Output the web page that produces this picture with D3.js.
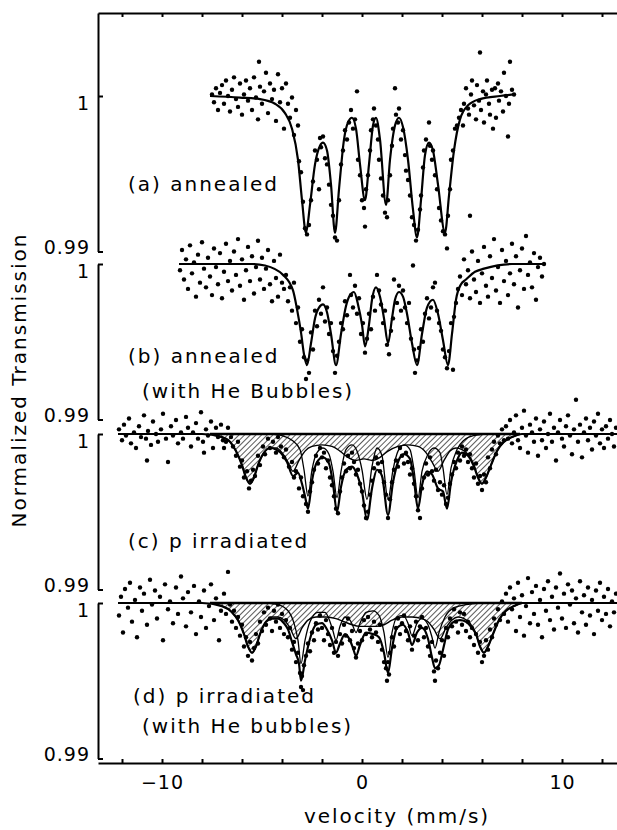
<!DOCTYPE html>
<html>
<head>
<meta charset="utf-8">
<script src="https://cdn.jsdelivr.net/npm/d3@7"></script>
<style>
  body { margin: 0; background: #fff; }
  text { font-family: "DejaVu Sans", sans-serif; fill: #000; }
</style>
</head>
<body>
<svg id="chart" width="617" height="830"></svg>
<script>
// velocity axis ticks and labels
var velTicks = [-12, -10, -8, -6, -4, -2, 0, 2, 4, 6, 8, 10, 12];
var velLabels = [-10, 0, 10];
var transTicks = [0.99, 1];

var panelNames = ["(a) annealed", "(b) annealed", "(c) p irradiated", "(d) p irradiated"];
var panelNotes = ["", "(with He Bubbles)", "", "(with He bubbles)"];

// (a) annealed : fit and measured points [velocity, transmission]
var fitA = [[-7.6,1.0000],[-6.1,0.9999],[-5.1,0.9998],[-4.35,0.9995],[-3.85,0.9989],[-3.5,0.9979],[-3.2,0.9959],[-3.0,0.9933],[-2.8,0.9912],[-2.6,0.9930],[-2.35,0.9956],[-2.1,0.9968],[-1.95,0.9970],[-1.75,0.9965],[-1.55,0.9943],[-1.35,0.9912],[-1.15,0.9940],[-0.9,0.9972],[-0.7,0.9983],[-0.5,0.9986],[-0.3,0.9979],[-0.1,0.9956],[0.15,0.9933],[0.35,0.9956],[0.55,0.9981],[0.7,0.9986],[0.9,0.9972],[1.2,0.9930],[1.4,0.9959],[1.65,0.9981],[1.85,0.9986],[2.05,0.9980],[2.3,0.9959],[2.55,0.9927],[2.75,0.9909],[2.95,0.9933],[3.15,0.9962],[3.35,0.9970],[3.55,0.9965],[3.8,0.9943],[4.15,0.9912],[4.35,0.9936],[4.6,0.9965],[4.9,0.9985],[5.3,0.9994],[5.9,0.9998],[6.9,1.0000],[7.65,1.0001]];
var ptsA = [[-7.5,1.0001],[-7.4,0.9996],[-7.3,1.0005],[-7.2,0.9991],[-7.1,1.0002],[-7.0,1.0007],[-6.9,0.9995],[-6.8,1.0010],[-6.7,1.0000],[-6.6,0.9990],[-6.5,1.0004],[-6.4,1.0012],[-6.3,0.9998],[-6.2,0.9993],[-6.1,1.0008],[-6.0,0.9988],[-5.9,1.0001],[-5.8,1.0010],[-5.7,0.9997],[-5.6,1.0005],[-5.5,0.9991],[-5.4,1.0012],[-5.3,0.9999],[-5.2,0.9985],[-5.15,1.0022],[-5.1,1.0006],[-5.0,0.9995],[-4.9,1.0003],[-4.8,1.0015],[-4.7,0.9989],[-4.6,1.0008],[-4.5,0.9998],[-4.4,1.0004],[-4.3,0.9984],[-4.2,1.0014],[-4.1,0.9996],[-4.0,1.0005],[-3.9,0.9979],[-3.8,1.0008],[-3.7,0.9995],[-3.6,0.9986],[-3.5,0.9999],[-3.4,0.9975],[-3.3,0.9991],[-3.2,0.9981],[-3.15,0.9958],[-3.05,0.9951],[-2.95,0.9932],[-2.85,0.9915],[-2.75,0.9911],[-2.65,0.9917],[-2.55,0.9933],[-2.45,0.9945],[-2.35,0.9965],[-2.25,0.9959],[-2.15,0.9940],[-2.1,0.9973],[-2.05,0.9967],[-1.95,0.9974],[-1.85,0.9960],[-1.75,0.9956],[-1.65,0.9943],[-1.55,0.9930],[-1.45,0.9923],[-1.35,0.9909],[-1.25,0.9907],[-1.15,0.9933],[-1.05,0.9956],[-0.95,0.9965],[-0.85,0.9978],[-0.75,0.9972],[-0.65,0.9983],[-0.55,0.9991],[-0.45,0.9979],[-0.35,0.9985],[-0.25,1.0003],[-0.2,0.9959],[-0.1,0.9949],[0.0,0.9933],[0.1,0.9928],[0.15,0.9916],[0.2,0.9940],[0.3,0.9949],[0.4,0.9965],[0.45,0.9978],[0.55,0.9985],[0.6,0.9992],[0.7,0.9981],[0.8,0.9972],[0.85,0.9959],[0.95,0.9947],[1.05,0.9936],[1.15,0.9925],[1.25,0.9922],[1.3,0.9933],[1.4,0.9949],[1.5,0.9968],[1.55,0.9979],[1.65,1.0005],[1.7,0.9988],[1.8,0.9983],[1.85,0.9992],[1.95,0.9972],[2.05,0.9978],[2.15,0.9962],[2.2,0.9952],[2.3,0.9946],[2.4,0.9936],[2.5,0.9922],[2.6,0.9917],[2.7,0.9907],[2.8,0.9914],[2.9,0.9927],[2.95,0.9936],[3.05,0.9954],[3.1,0.9965],[3.2,0.9972],[3.35,0.9983],[3.4,0.9968],[3.5,0.9959],[3.55,0.9965],[3.65,0.9949],[3.75,0.9940],[3.85,0.9928],[3.95,0.9920],[4.05,0.9913],[4.15,0.9911],[4.25,0.9902],[4.3,0.9923],[4.4,0.9940],[4.45,0.9959],[4.55,0.9965],[4.65,0.9979],[4.75,0.9981],[4.85,0.9986],[4.95,0.9991],[5.05,0.9981],[5.1,0.9995],[5.2,1.0005],[5.3,0.9992],[5.35,0.9988],[5.4,0.9923],[5.45,1.0001],[5.5,1.0010],[5.6,0.9994],[5.7,0.9985],[5.75,1.0007],[5.85,0.9997],[5.9,1.0028],[5.95,0.9991],[6.05,1.0003],[6.1,0.9983],[6.2,1.0001],[6.25,1.0010],[6.35,0.9995],[6.4,0.9988],[6.5,1.0004],[6.55,0.9979],[6.65,1.0005],[6.7,0.9986],[6.8,1.0008],[6.85,0.9997],[6.95,1.0003],[7.05,0.9990],[7.1,1.0015],[7.2,1.0000],[7.3,0.9974],[7.35,0.9995],[7.4,1.0022],[7.5,1.0004],[7.6,1.0001]];

// (b) annealed, with He bubbles
var fitB = [[-9.15,1.0000],[-5.5,1.0000],[-4.85,0.9999],[-3.95,0.9993],[-3.45,0.9983],[-3.25,0.9971],[-3.05,0.9956],[-2.9,0.9942],[-2.75,0.9935],[-2.55,0.9949],[-2.35,0.9965],[-2.15,0.9972],[-1.95,0.9974],[-1.75,0.9969],[-1.55,0.9955],[-1.3,0.9935],[-1.05,0.9955],[-0.8,0.9973],[-0.6,0.9980],[-0.4,0.9982],[-0.2,0.9974],[0,0.9961],[0.15,0.9947],[0.35,0.9961],[0.5,0.9977],[0.7,0.9985],[0.9,0.9979],[1.1,0.9965],[1.3,0.9949],[1.5,0.9965],[1.65,0.9977],[1.85,0.9982],[2.05,0.9979],[2.25,0.9968],[2.5,0.9949],[2.75,0.9935],[3.0,0.9955],[3.25,0.9972],[3.55,0.9977],[3.8,0.9968],[4.05,0.9951],[4.3,0.9935],[4.5,0.9955],[4.7,0.9977],[4.95,0.9987],[5.2,0.9990],[5.65,0.9995],[6.1,0.9997],[7.5,1.0000],[9.15,1.0000]];
var ptsB = [[-9.1,0.9996],[-9.0,1.0009],[-8.9,0.9990],[-8.8,1.0003],[-8.7,0.9984],[-8.6,1.0012],[-8.5,0.9994],[-8.4,1.0001],[-8.3,0.9979],[-8.2,1.0006],[-8.1,0.9988],[-8.0,1.0014],[-7.9,0.9997],[-7.8,0.9985],[-7.7,1.0004],[-7.6,0.9992],[-7.5,0.9980],[-7.4,1.0010],[-7.3,0.9998],[-7.2,0.9987],[-7.1,1.0007],[-7.0,0.9978],[-6.9,0.9995],[-6.8,1.0013],[-6.7,0.9989],[-6.6,1.0002],[-6.5,0.9983],[-6.4,1.0008],[-6.3,0.9993],[-6.2,1.0016],[-6.1,0.9986],[-6.0,1.0003],[-5.9,0.9977],[-5.8,0.9996],[-5.7,1.0011],[-5.6,0.9989],[-5.5,1.0005],[-5.4,0.9981],[-5.3,0.9998],[-5.2,1.0015],[-5.1,0.9990],[-5.0,1.0004],[-4.9,0.9984],[-4.8,0.9997],[-4.7,1.0009],[-4.6,0.9987],[-4.5,0.9976],[-4.4,1.0002],[-4.3,0.9991],[-4.2,0.9979],[-4.1,1.0006],[-4.0,0.9988],[-3.9,0.9984],[-3.8,0.9993],[-3.7,0.9976],[-3.6,0.9985],[-3.5,0.9970],[-3.4,0.9988],[-3.3,0.9962],[-3.2,0.9972],[-3.1,0.9950],[-3.0,0.9958],[-2.9,0.9940],[-2.8,0.9926],[-2.75,0.9938],[-2.65,0.9930],[-2.55,0.9956],[-2.45,0.9945],[-2.35,0.9970],[-2.25,0.9960],[-2.15,0.9977],[-2.05,0.9968],[-1.95,0.9985],[-1.85,0.9963],[-1.75,0.9972],[-1.65,0.9955],[-1.55,0.9962],[-1.45,0.9944],[-1.35,0.9930],[-1.25,0.9941],[-1.15,0.9950],[-1.05,0.9962],[-0.95,0.9958],[-0.85,0.9976],[-0.75,0.9967],[-0.6,0.9993],[-0.55,0.9980],[-0.45,0.9972],[-0.35,0.9986],[-0.25,0.9968],[-0.15,0.9978],[-0.05,0.9955],[0.05,0.9962],[0.15,0.9943],[0.25,0.9952],[0.35,0.9968],[0.45,0.9958],[0.55,0.9979],[0.65,0.9970],[0.75,0.9993],[0.85,0.9983],[0.95,0.9974],[1.05,0.9962],[1.15,0.9970],[1.25,0.9948],[1.35,0.9942],[1.45,0.9957],[1.55,0.9965],[1.6,0.9990],[1.75,0.9975],[1.85,0.9986],[1.95,0.9970],[2.05,0.9983],[2.15,0.9972],[2.25,0.9962],[2.35,0.9975],[2.45,0.9952],[2.55,0.9999],[2.6,0.9945],[2.65,0.9930],[2.75,0.9938],[2.85,0.9946],[2.95,0.9958],[3.05,0.9950],[3.15,0.9968],[3.25,0.9978],[3.35,0.9965],[3.45,0.9972],[3.55,0.9985],[3.65,0.9988],[3.75,0.9970],[3.85,0.9962],[3.95,0.9957],[4.05,0.9945],[4.15,0.9940],[4.25,0.9933],[4.35,0.9944],[4.45,0.9962],[4.55,0.9932],[4.6,0.9966],[4.7,0.9975],[4.8,0.9984],[4.9,0.9992],[5.0,0.9980],[5.1,1.0003],[5.2,0.9987],[5.3,0.9996],[5.4,0.9978],[5.5,1.0008],[5.6,0.9990],[5.7,0.9982],[5.8,1.0002],[5.9,0.9975],[6.0,0.9994],[6.1,1.0011],[6.2,0.9986],[6.3,0.9979],[6.4,1.0005],[6.5,0.9991],[6.6,1.0016],[6.7,0.9983],[6.8,0.9998],[6.9,0.9975],[7.0,1.0009],[7.1,0.9989],[7.2,1.0002],[7.3,0.9980],[7.4,0.9994],[7.5,1.0013],[7.6,0.9987],[7.7,1.0005],[7.8,0.9972],[7.9,0.9996],[8.0,1.0010],[8.1,0.9984],[8.2,1.0018],[8.3,0.9993],[8.4,1.0001],[8.5,0.9985],[8.6,1.0007],[8.7,0.9977],[8.8,0.9998],[8.9,1.0004],[9.0,0.9992],[9.1,1.0000]];

// (c) p irradiated : total fit, broad (hatched) subspectrum, sharp subspectrum
var fitC = [[-12.2,1.0000],[-8.0,1.0000],[-7.0,0.9998],[-6.6,0.9995],[-6.3,0.9989],[-6.0,0.9980],[-5.8,0.9972],[-5.6,0.9968],[-5.4,0.9972],[-5.2,0.9980],[-4.9,0.9988],[-4.6,0.9991],[-4.3,0.9990],[-4.0,0.9987],[-3.75,0.9982],[-3.45,0.9973],[-3.2,0.9975],[-3.0,0.9968],[-2.85,0.9960],[-2.7,0.9952],[-2.5,0.9970],[-2.25,0.9982],[-1.95,0.9985],[-1.65,0.9981],[-1.45,0.9968],[-1.25,0.9950],[-1.05,0.9966],[-0.8,0.9977],[-0.5,0.9979],[-0.25,0.9974],[0.0,0.9963],[0.25,0.9945],[0.5,0.9965],[0.75,0.9977],[1.0,0.9973],[1.3,0.9948],[1.55,0.9969],[1.8,0.9982],[2.1,0.9987],[2.4,0.9984],[2.6,0.9970],[2.8,0.9952],[3.0,0.9967],[3.25,0.9976],[3.5,0.9974],[3.8,0.9965],[4.05,0.9963],[4.25,0.9952],[4.45,0.9969],[4.75,0.9983],[5.0,0.9988],[5.3,0.9986],[5.6,0.9979],[5.8,0.9972],[6.0,0.9968],[6.2,0.9972],[6.45,0.9980],[6.75,0.9989],[7.1,0.9995],[7.5,0.9998],[8.0,1.0000],[12.8,1.0000]];
var broadC = [[-7.6,1.0000],[-7.0,0.9998],[-6.6,0.9995],[-6.3,0.9989],[-6.0,0.9980],[-5.8,0.9972],[-5.6,0.9968],[-5.4,0.9972],[-5.2,0.9980],[-4.9,0.9988],[-4.6,0.9991],[-4.3,0.9991],[-4.0,0.9988],[-3.75,0.9983],[-3.45,0.9976],[-3.15,0.9983],[-2.85,0.9989],[-2.5,0.9992],[-2.0,0.9993],[-1.5,0.9992],[-1.1,0.9989],[-0.7,0.9985],[-0.3,0.9983],[0.1,0.9984],[0.5,0.9983],[0.9,0.9985],[1.3,0.9989],[1.8,0.9992],[2.3,0.9993],[2.8,0.9992],[3.2,0.9988],[3.5,0.9982],[3.8,0.9976],[4.1,0.9983],[4.4,0.9989],[4.7,0.9991],[5.0,0.9990],[5.3,0.9987],[5.6,0.9980],[5.8,0.9972],[6.0,0.9968],[6.2,0.9972],[6.45,0.9980],[6.75,0.9989],[7.1,0.9995],[7.5,0.9998],[7.9,1.0000]];
var sharpC = [[-4.6,1.0000],[-4.0,0.9999],[-3.5,0.9996],[-3.1,0.9990],[-2.9,0.9977],[-2.7,0.9960],[-2.5,0.9977],[-2.25,0.9988],[-1.95,0.9991],[-1.65,0.9987],[-1.45,0.9976],[-1.25,0.9959],[-1.05,0.9976],[-0.8,0.9990],[-0.5,0.9993],[-0.25,0.9989],[0.0,0.9977],[0.25,0.9958],[0.5,0.9979],[0.75,0.9991],[1.0,0.9986],[1.3,0.9958],[1.55,0.9977],[1.8,0.9989],[2.1,0.9993],[2.4,0.9990],[2.6,0.9977],[2.8,0.9959],[3.0,0.9976],[3.3,0.9987],[3.6,0.9991],[3.9,0.9988],[4.05,0.9978],[4.25,0.9961],[4.45,0.9978],[4.75,0.9990],[5.1,0.9996],[5.6,0.9999],[6.2,1.0000]];
var ptsC = [[-12.15,1.0003],[-12.0,0.9996],[-11.9,1.0006],[-11.8,0.9999],[-11.65,1.0010],[-11.55,0.9994],[-11.4,1.0001],[-11.3,0.9991],[-11.15,1.0005],[-11.05,0.9998],[-10.9,1.0012],[-10.8,0.9997],[-10.75,0.9983],[-10.7,1.0002],[-10.55,0.9993],[-10.45,1.0008],[-10.3,1.0000],[-10.2,0.9995],[-10.05,1.0003],[-9.95,1.0013],[-9.8,0.9997],[-9.7,0.9982],[-9.55,1.0005],[-9.45,0.9999],[-9.3,1.0009],[-9.2,0.9994],[-9.05,1.0001],[-8.95,0.9997],[-8.8,1.0011],[-8.7,1.0004],[-8.55,0.9992],[-8.45,1.0001],[-8.3,1.0007],[-8.2,0.9997],[-8.05,1.0014],[-7.95,0.9995],[-7.9,0.9988],[-7.8,1.0003],[-7.7,0.9999],[-7.55,1.0008],[-7.45,0.9991],[-7.3,1.0004],[-7.2,0.9998],[-7.05,1.0006],[-6.95,0.9996],[-6.9,0.9991],[-6.8,0.9995],[-6.7,1.0004],[-6.55,0.9998],[-6.45,0.9992],[-6.3,0.9986],[-6.2,0.9995],[-6.1,0.9979],[-6.0,0.9983],[-5.9,0.9972],[-5.75,0.9976],[-5.65,0.9965],[-5.55,0.9970],[-5.45,0.9977],[-5.35,0.9973],[-5.2,0.9986],[-5.1,0.9980],[-4.95,0.9992],[-4.85,0.9987],[-4.7,0.9997],[-4.6,0.9991],[-4.45,0.9995],[-4.3,0.9988],[-4.2,0.9998],[-4.05,0.9992],[-3.9,0.9985],[-3.8,0.9990],[-3.65,0.9979],[-3.5,0.9982],[-3.4,0.9972],[-3.3,0.9976],[-3.15,0.9965],[-3.05,0.9972],[-2.95,0.9960],[-2.8,0.9955],[-2.7,0.9950],[-2.6,0.9963],[-2.5,0.9969],[-2.4,0.9977],[-2.3,0.9986],[-2.2,0.9981],[-2.1,0.9991],[-2.0,0.9985],[-1.9,0.9988],[-1.8,0.9978],[-1.7,0.9983],[-1.6,0.9972],[-1.5,0.9967],[-1.4,0.9960],[-1.3,0.9952],[-1.2,0.9949],[-1.1,0.9963],[-1.0,0.9972],[-0.9,0.9981],[-0.8,0.9976],[-0.7,0.9986],[-0.6,0.9978],[-0.5,0.9988],[-0.4,0.9982],[-0.3,0.9974],[-0.2,0.9977],[-0.1,0.9968],[0.0,0.9963],[0.1,0.9954],[0.2,0.9946],[0.3,0.9950],[0.4,0.9961],[0.5,0.9970],[0.6,0.9978],[0.7,0.9985],[0.8,0.9981],[0.9,0.9976],[1.0,0.9982],[1.1,0.9969],[1.2,0.9961],[1.3,0.9946],[1.4,0.9958],[1.5,0.9969],[1.6,0.9977],[1.7,0.9983],[1.8,0.9979],[1.9,0.9991],[2.0,0.9986],[2.1,0.9981],[2.2,0.9988],[2.3,0.9982],[2.4,0.9974],[2.5,0.9978],[2.6,0.9968],[2.7,0.9960],[2.8,0.9951],[2.9,0.9946],[3.0,0.9965],[3.1,0.9972],[3.2,0.9981],[3.3,0.9974],[3.4,0.9985],[3.5,0.9976],[3.6,0.9970],[3.7,0.9977],[3.8,0.9964],[3.9,0.9969],[4.0,0.9961],[4.1,0.9967],[4.2,0.9955],[4.3,0.9959],[4.4,0.9968],[4.5,0.9974],[4.6,0.9982],[4.7,0.9978],[4.8,0.9988],[4.9,0.9983],[5.0,0.9992],[5.1,0.9986],[5.2,0.9990],[5.3,0.9982],[5.4,0.9987],[5.5,0.9978],[5.6,0.9972],[5.7,0.9981],[5.8,0.9968],[5.9,0.9973],[6.0,0.9964],[6.1,0.9974],[6.2,0.9969],[6.3,0.9985],[6.4,0.9978],[6.5,0.9990],[6.6,0.9995],[6.7,0.9987],[6.8,0.9999],[6.9,0.9994],[7.0,1.0003],[7.1,0.9996],[7.2,1.0005],[7.3,0.9997],[7.4,1.0009],[7.5,0.9994],[7.6,1.0001],[7.7,1.0012],[7.8,0.9996],[7.9,0.9991],[8.0,1.0004],[8.1,1.0015],[8.2,0.9999],[8.3,0.9988],[8.4,1.0006],[8.5,1.0001],[8.6,0.9995],[8.7,1.0010],[8.8,0.9986],[8.9,1.0003],[9.0,0.9996],[9.1,1.0008],[9.2,0.9991],[9.3,1.0000],[9.4,1.0013],[9.5,0.9995],[9.6,1.0004],[9.7,0.9983],[9.8,1.0001],[9.9,1.0009],[10.0,0.9997],[10.1,0.9992],[10.2,1.0005],[10.3,1.0012],[10.4,0.9999],[10.5,0.9987],[10.6,1.0003],[10.7,1.0022],[10.8,0.9995],[10.9,1.0006],[11.0,0.9985],[11.1,1.0001],[11.2,1.0010],[11.3,0.9996],[11.4,1.0004],[11.5,0.9990],[11.6,1.0008],[11.7,0.9999],[11.8,1.0013],[11.9,0.9994],[12.0,1.0003],[12.1,0.9991],[12.2,1.0005],[12.3,0.9997],[12.4,1.0009],[12.5,1.0000],[12.6,0.9992],[12.7,1.0004]];

// (d) p irradiated, with He bubbles
var fitD = [[-12.2,1.0000],[-8.0,1.0000],[-7.0,0.9998],[-6.5,0.9994],[-6.2,0.9989],[-5.9,0.9980],[-5.7,0.9972],[-5.5,0.9968],[-5.3,0.9972],[-5.1,0.9980],[-4.8,0.9988],[-4.5,0.9990],[-4.2,0.9990],[-3.9,0.9987],[-3.7,0.9983],[-3.5,0.9975],[-3.3,0.9967],[-3.15,0.9961],[-3.05,0.9950],[-2.85,0.9963],[-2.6,0.9977],[-2.3,0.9986],[-2.0,0.9987],[-1.75,0.9983],[-1.5,0.9976],[-1.3,0.9968],[-1.1,0.9974],[-0.85,0.9980],[-0.6,0.9976],[-0.45,0.9971],[-0.3,0.9966],[-0.1,0.9973],[0.2,0.9981],[0.55,0.9980],[0.85,0.9978],[1.1,0.9968],[1.3,0.9955],[1.5,0.9971],[1.75,0.9984],[2.05,0.9986],[2.3,0.9981],[2.5,0.9973],[2.75,0.9981],[3.0,0.9984],[3.3,0.9977],[3.5,0.9965],[3.65,0.9958],[3.85,0.9960],[4.05,0.9970],[4.3,0.9983],[4.6,0.9988],[4.9,0.9989],[5.2,0.9988],[5.5,0.9984],[5.7,0.9980],[5.9,0.9972],[6.1,0.9968],[6.3,0.9972],[6.55,0.9980],[6.85,0.9989],[7.2,0.9995],[7.6,0.9998],[8.0,1.0000],[12.8,1.0000]];
var broadD = [[-7.6,1.0000],[-7.0,0.9998],[-6.5,0.9994],[-6.2,0.9989],[-5.9,0.9980],[-5.7,0.9972],[-5.5,0.9968],[-5.3,0.9972],[-5.1,0.9980],[-4.8,0.9988],[-4.5,0.9991],[-4.2,0.9991],[-3.9,0.9989],[-3.6,0.9984],[-3.3,0.9977],[-3.0,0.9984],[-2.7,0.9989],[-2.3,0.9991],[-1.8,0.9991],[-1.3,0.9990],[-0.9,0.9988],[-0.5,0.9986],[-0.1,0.9985],[0.3,0.9985],[0.7,0.9985],[1.1,0.9986],[1.5,0.9989],[2.0,0.9991],[2.5,0.9991],[3.0,0.9990],[3.3,0.9988],[3.6,0.9983],[3.9,0.9977],[4.2,0.9984],[4.5,0.9989],[4.8,0.9991],[5.1,0.9990],[5.4,0.9987],[5.7,0.9980],[5.9,0.9972],[6.1,0.9968],[6.3,0.9972],[6.55,0.9980],[6.85,0.9989],[7.2,0.9995],[7.6,0.9998],[8.0,1.0000]];
var sharpD = [[-4.8,1.0000],[-4.2,0.9999],[-3.7,0.9995],[-3.4,0.9987],[-3.2,0.9976],[-3.05,0.9961],[-2.85,0.9976],[-2.6,0.9988],[-2.2,0.9994],[-1.85,0.9994],[-1.6,0.9988],[-1.45,0.9982],[-1.3,0.9976],[-1.1,0.9985],[-0.85,0.9991],[-0.6,0.9989],[-0.45,0.9985],[-0.3,0.9981],[-0.1,0.9987],[0.2,0.9994],[0.55,0.9995],[0.85,0.9992],[1.1,0.9981],[1.3,0.9965],[1.5,0.9981],[1.75,0.9991],[2.05,0.9992],[2.3,0.9987],[2.5,0.9979],[2.75,0.9987],[3.0,0.9990],[3.3,0.9986],[3.5,0.9978],[3.65,0.9971],[3.85,0.9981],[4.15,0.9991],[4.6,0.9997],[5.2,0.9999],[5.8,1.0000]];
var ptsD = [[-12.15,0.9992],[-12.05,1.0004],[-11.95,0.9981],[-11.85,1.0009],[-11.7,0.9997],[-11.6,1.0013],[-11.5,0.9988],[-11.35,1.0002],[-11.25,0.9978],[-11.1,1.0010],[-11.0,0.9995],[-10.9,1.0006],[-10.75,0.9986],[-10.6,1.0015],[-10.5,0.9999],[-10.35,1.0008],[-10.25,0.9990],[-10.1,1.0004],[-9.95,0.9976],[-9.85,1.0012],[-9.7,0.9996],[-9.6,1.0001],[-9.45,0.9987],[-9.3,1.0010],[-9.2,0.9993],[-9.05,1.0017],[-8.95,1.0003],[-8.8,0.9985],[-8.7,1.0007],[-8.55,0.9994],[-8.4,1.0011],[-8.3,0.9980],[-8.15,1.0001],[-8.05,0.9991],[-7.9,1.0008],[-7.8,0.9984],[-7.65,0.9998],[-7.55,1.0012],[-7.4,0.9989],[-7.3,1.0003],[-7.15,0.9976],[-7.05,0.9995],[-6.9,1.0006],[-6.8,0.9993],[-6.7,1.0020],[-6.6,0.9999],[-6.5,0.9988],[-6.4,0.9995],[-6.3,0.9984],[-6.2,0.9991],[-6.1,0.9979],[-6.0,0.9986],[-5.9,0.9972],[-5.8,0.9978],[-5.7,0.9966],[-5.6,0.9975],[-5.5,0.9963],[-5.4,0.9971],[-5.3,0.9980],[-5.2,0.9974],[-5.1,0.9988],[-5.0,0.9982],[-4.9,0.9994],[-4.8,0.9986],[-4.7,0.9997],[-4.6,0.9990],[-4.5,0.9982],[-4.4,0.9995],[-4.3,0.9988],[-4.2,0.9999],[-4.1,0.9984],[-4.0,0.9993],[-3.9,0.9980],[-3.8,0.9989],[-3.7,0.9978],[-3.6,0.9984],[-3.5,0.9970],[-3.4,0.9975],[-3.3,0.9962],[-3.2,0.9968],[-3.1,0.9955],[-3.05,0.9946],[-3.0,0.9953],[-2.95,0.9944],[-2.9,0.9960],[-2.8,0.9966],[-2.7,0.9974],[-2.6,0.9969],[-2.5,0.9981],[-2.4,0.9976],[-2.3,0.9987],[-2.2,0.9983],[-2.1,0.9992],[-2.0,0.9984],[-1.9,0.9976],[-1.8,0.9989],[-1.7,0.9980],[-1.6,0.9973],[-1.5,0.9984],[-1.4,0.9968],[-1.3,0.9975],[-1.2,0.9966],[-1.1,0.9980],[-1.0,0.9974],[-0.9,0.9986],[-0.8,0.9979],[-0.7,0.9990],[-0.6,0.9976],[-0.5,0.9982],[-0.4,0.9971],[-0.3,0.9965],[-0.2,0.9974],[-0.1,0.9982],[0.0,0.9976],[0.1,0.9989],[0.2,0.9980],[0.3,0.9991],[0.4,0.9983],[0.5,0.9978],[0.6,0.9988],[0.7,0.9981],[0.8,0.9975],[0.9,0.9986],[1.0,0.9970],[1.1,0.9962],[1.2,0.9958],[1.25,0.9950],[1.3,0.9962],[1.35,0.9954],[1.4,0.9968],[1.5,0.9978],[1.6,0.9972],[1.7,0.9984],[1.8,0.9990],[1.9,0.9980],[2.0,0.9987],[2.1,0.9992],[2.2,0.9982],[2.3,0.9976],[2.4,0.9985],[2.5,0.9970],[2.6,0.9979],[2.7,0.9988],[2.8,0.9976],[2.9,0.9985],[3.0,0.9991],[3.1,0.9978],[3.2,0.9984],[3.3,0.9972],[3.4,0.9966],[3.5,0.9975],[3.6,0.9956],[3.65,0.9950],[3.7,0.9963],[3.8,0.9958],[3.9,0.9968],[4.0,0.9976],[4.1,0.9966],[4.2,0.9984],[4.3,0.9978],[4.4,0.9990],[4.5,0.9985],[4.6,0.9996],[4.7,0.9988],[4.8,0.9981],[4.9,0.9994],[5.0,0.9986],[5.1,0.9993],[5.2,0.9982],[5.3,0.9988],[5.4,0.9978],[5.5,0.9984],[5.6,0.9973],[5.7,0.9980],[5.8,0.9968],[5.9,0.9975],[6.0,0.9962],[6.1,0.9966],[6.2,0.9976],[6.3,0.9970],[6.4,0.9983],[6.5,0.9978],[6.6,0.9990],[6.7,0.9986],[6.8,0.9996],[6.9,0.9989],[7.0,1.0001],[7.1,0.9993],[7.2,1.0006],[7.3,0.9988],[7.4,1.0010],[7.5,0.9996],[7.6,1.0003],[7.7,0.9982],[7.8,1.0013],[7.9,0.9991],[8.0,1.0005],[8.1,0.9979],[8.2,0.9998],[8.3,1.0016],[8.4,0.9987],[8.5,1.0007],[8.6,0.9993],[8.7,1.0011],[8.8,0.9986],[8.9,1.0002],[9.0,0.9978],[9.1,1.0009],[9.2,0.9995],[9.3,1.0014],[9.4,0.9989],[9.5,1.0004],[9.6,0.9983],[9.7,1.0010],[9.8,0.9997],[9.9,1.0019],[10.0,0.9990],[10.1,1.0006],[10.2,0.9984],[10.3,1.0012],[10.4,0.9999],[10.5,1.0008],[10.6,0.9987],[10.7,1.0003],[10.8,0.9981],[10.9,1.0014],[11.0,0.9994],[11.1,1.0005],[11.2,0.9986],[11.3,1.0010],[11.4,0.9992],[11.5,1.0002],[11.6,0.9980],[11.7,1.0008],[11.8,0.9995],[11.9,1.0013],[12.0,0.9989],[12.1,1.0004],[12.2,0.9993],[12.3,1.0009],[12.4,0.9985],[12.5,1.0001],[12.6,0.9994],[12.7,1.0006]];

var svg = d3.select("#chart");

// shared velocity scale, one transmission scale per stacked panel
var x = d3.scaleLinear().domain([-13.2, 13.3]).range([98, 628]);
var axisLeftX = 98, frameTop = 13, frameBottom = 763;
var panelY = [96, 264, 434, 603]; // pixel row of T = 1 in each panel
var decade = 155.5;                // pixels for 0.01 in transmission

var panels = [
  {fit: fitA, pts: ptsA},
  {fit: fitB, pts: ptsB},
  {fit: fitC, pts: ptsC, broad: broadC, sharp: sharpC},
  {fit: fitD, pts: ptsD, broad: broadD, sharp: sharpD}
];

// hatch pattern for the broad subspectrum
var defs = svg.append("defs");
defs.append("pattern")
    .attr("id", "hatch")
    .attr("patternUnits", "userSpaceOnUse")
    .attr("width", 4).attr("height", 4)
    .attr("patternTransform", "rotate(45)")
  .append("line")
    .attr("x1", 0).attr("y1", 0).attr("x2", 0).attr("y2", 4)
    .attr("stroke", "#000").attr("stroke-width", 1.3);

// top frame line with inward ticks
svg.append("g")
    .attr("transform", "translate(0," + frameTop + ")")
    .call(d3.axisTop(x).tickValues(velTicks).tickSize(-4).tickSizeOuter(0).tickFormat(""))
    .call(function(g) { g.selectAll("path,line").attr("stroke-width", 2); });

// bottom velocity axis
var bottom = svg.append("g")
    .attr("transform", "translate(0," + frameBottom + ")")
    .call(d3.axisBottom(x).tickValues(velTicks).tickSize(-4).tickSizeOuter(0).tickFormat(""));
bottom.selectAll("path,line").attr("stroke-width", 2);
svg.append("g")
    .attr("transform", "translate(0," + frameBottom + ")")
    .call(d3.axisBottom(x).tickValues(velLabels).tickSize(0).tickPadding(13))
    .call(function(g) {
      g.select(".domain").remove();
      g.selectAll("text").attr("font-size", 19).attr("font-family", "DejaVu Sans")
        .style("letter-spacing", "1px");
    });

panels.forEach(function(p, i) {
  var y = d3.scaleLinear().domain([0.99, 1]).range([panelY[i] + decade, panelY[i]]);
  var line = d3.line().x(function(d) { return x(d[0]); }).y(function(d) { return y(d[1]); })
      .curve(d3.curveMonotoneX);

  // left axis segment drawn as a bracket for each panel
  var topVal = i === 0 ? y.invert(frameTop) : 1;
  var ya = y.copy().domain([0.99, topVal]).range([y(0.99), i === 0 ? frameTop : panelY[i]]);
  var ax = svg.append("g")
      .attr("transform", "translate(" + axisLeftX + ",0)")
      .call(d3.axisLeft(ya).tickValues(transTicks).tickSize(-5).tickSizeOuter(0).tickPadding(8)
        .tickFormat(function(d) { return d === 1 ? "1" : "0.99"; }));
  ax.selectAll("path,line").attr("stroke-width", 2);
  ax.selectAll("text")
      .attr("font-size", 19).attr("font-family", "DejaVu Sans")
      .style("letter-spacing", "1px")
      .attr("dy", function(d) { return d === 1 ? "0.72em" : "0.1em"; });

  if (p.broad) {
    var area = d3.area().x(function(d) { return x(d[0]); })
        .y0(y(1)).y1(function(d) { return y(d[1]); })
        .curve(d3.curveMonotoneX);
    svg.append("path").datum(p.broad).attr("d", area).attr("fill", "url(#hatch)");
    svg.append("path").datum(p.broad).attr("d", line)
        .attr("fill", "none").attr("stroke", "#000").attr("stroke-width", 1.4);
    svg.append("path").datum(p.sharp).attr("d", line)
        .attr("fill", "none").attr("stroke", "#000").attr("stroke-width", 1.3);
    svg.append("line")
        .attr("x1", x(p.broad[0][0])).attr("x2", x(p.broad[p.broad.length - 1][0]))
        .attr("y1", y(1)).attr("y2", y(1))
        .attr("stroke", "#000").attr("stroke-width", 2.4);
  }

  svg.append("path").datum(p.fit).attr("d", line)
      .attr("fill", "none").attr("stroke", "#000").attr("stroke-width", 2.2);

  svg.append("g").selectAll("circle").data(p.pts).join("circle")
      .attr("cx", function(d) { return x(d[0]); })
      .attr("cy", function(d) { return y(d[1]); })
      .attr("r", 2.2).attr("fill", "#000");
});

// panel captions
var captionPos = [[128, 191], [128, 363], [128, 548], [133, 703]];
var notePos = [null, [142, 398], null, [142, 733]];
panelNames.forEach(function(name, i) {
  svg.append("text").attr("x", captionPos[i][0]).attr("y", captionPos[i][1])
      .attr("font-size", 20).style("letter-spacing", "2px").text(name);
  if (panelNotes[i]) {
    svg.append("text").attr("x", notePos[i][0]).attr("y", notePos[i][1])
        .attr("font-size", 20).style("letter-spacing", "2px").text(panelNotes[i]);
  }
});

// axis titles
svg.append("text")
    .attr("x", 397).attr("y", 823)
    .attr("text-anchor", "middle").attr("font-size", 20).style("letter-spacing", "2px")
    .text("velocity (mm/s)");
svg.append("text")
    .attr("transform", "translate(26,380) rotate(-90)")
    .attr("text-anchor", "middle").attr("font-size", 20).style("letter-spacing", "2px")
    .text("Normalized Transmission");
</script>
</body>
</html>
